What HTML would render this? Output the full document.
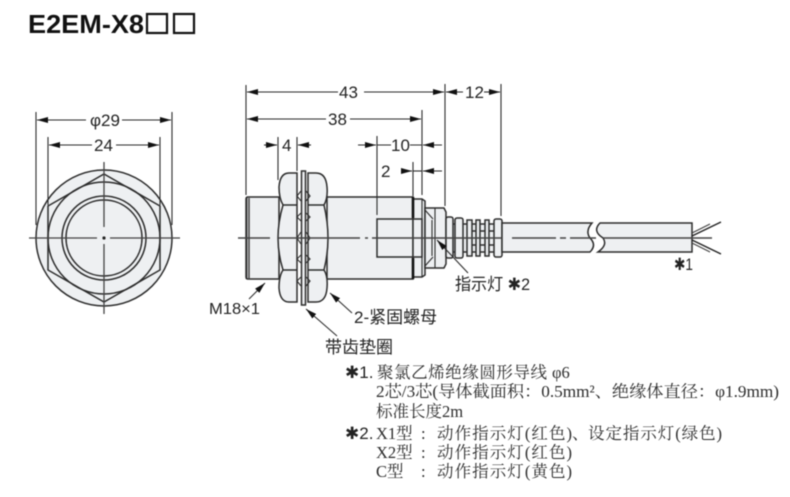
<!DOCTYPE html>
<html><head><meta charset="utf-8"><style>
html,body{margin:0;padding:0;background:#fff}
svg{display:block;filter:blur(.4px)}
text{fill:#222;font-family:"Liberation Sans","Noto Sans CJK SC",sans-serif;font-size:17px}
.s{font-family:"Liberation Serif","Noto Serif CJK SC",serif;font-size:16.5px;fill:#2c2c2c}
.o{stroke:#2c2c2c;stroke-width:1.5;fill:#eef0f2}
.n{stroke:#2c2c2c;stroke-width:1.5;fill:none}
.d{stroke:#2c2c2c;stroke-width:1.1;fill:none}
</style></head><body>
<svg width="790" height="497" viewBox="0 0 790 497" xmlns="http://www.w3.org/2000/svg">
<defs><marker id="a" viewBox="0 0 11 6" refX="11" refY="3" markerWidth="11" markerHeight="6" orient="auto-start-reverse" markerUnits="userSpaceOnUse"><path d="M0 0L11 3L0 6z" fill="#111"/></marker></defs>

<text x="28" y="33" textLength="116" lengthAdjust="spacingAndGlyphs" style="font-size:26px;font-weight:bold;fill:#111">E2EM-X8</text>
<rect x="147" y="14" width="20" height="19" fill="none" stroke="#111" stroke-width="2.2"/>
<rect x="174" y="14" width="20" height="19" fill="none" stroke="#111" stroke-width="2.2"/>

<!-- front view -->
<circle cx="104" cy="238" r="68" class="o"/>
<path d="M104 174L160 206V270L104 302L48 270V206Z" class="n"/>
<circle cx="104" cy="238" r="56" class="n"/>
<circle cx="104" cy="238" r="42" class="n"/>
<circle cx="104" cy="238" r="38" class="n"/>
<path d="M29 238H97M110 238H180M104 162V227M104 244V314" stroke="#444" stroke-width="1.3" fill="none"/>
<circle cx="104" cy="238" r="1.6" fill="#222"/>
<path d="M36 112V225M172 112V225M48 137V205M160 137V205" class="d"/>
<path d="M86 120H37" class="d" marker-end="url(#a)"/><path d="M122 120H171" class="d" marker-end="url(#a)"/>
<path d="M92 145H49" class="d" marker-end="url(#a)"/><path d="M116 145H159" class="d" marker-end="url(#a)"/>
<text x="90" y="126">φ29</text>
<text x="94" y="151">24</text>

<!-- side view body -->
<path d="M246 199Q246 197 248 197H279V279H248Q246 279 246 277Z" class="o"/>
<rect x="327" y="197" width="86" height="82" class="o"/>
<path d="M413 199H422L425 201V275L422 277H413Z" class="o"/>
<path d="M425 208H444L446 212V264L444 268H425Z" class="o"/>
<path d="M246.500 198V279" stroke="#333" stroke-width="1.8"/><path d="M249 198V279" stroke="#444" stroke-width="1.5"/>
<path d="M413 197V218M413 258V279" stroke="#111" stroke-width="2.6"/>
<path d="M422 199V277M432 220V256M435 208V268M425 210L433 219M425 266L433 257" class="d"/>
<rect x="377" y="219" width="45" height="38" class="n"/>
<!-- nuts -->
<path d="M289 173H297V302H289Q280 302 279 288Q279 276 283 270Q278 254 278 238Q278 222 283 205Q279 198 279 187Q280 173 289 173Z" class="o"/>
<path d="M316 173H308V302H316Q326 302 327 288Q328 276 324 270Q328 254 328 238Q328 222 324 205Q328 198 327 187Q326 173 316 173Z" class="o"/>
<path d="M283 205H297M283 270H297M324 205H308M324 270H308" class="n"/>
<rect x="301.500" y="171" width="4" height="134" class="o"/>
<path d="M301 191L297 196L301 201M301 213L297 217L301 221M301 232L297 238L301 244M301 255L297 259L301 263M301 277L297 281L301 286M306 191L310 196L306 201M306 213L310 217L306 221M306 232L310 238L306 244M306 255L310 259L306 263M306 277L310 281L306 286" class="d"/>
<!-- ribs -->
<rect x="446" y="224" width="56" height="28" fill="#eef0f2"/>
<rect x="446" y="217" width="7" height="41" rx="2" class="o"/>
<rect x="455" y="218" width="8" height="40" rx="2" class="o"/>
<rect x="467" y="220" width="5" height="36" class="o"/>
<rect x="476" y="220" width="4" height="36" class="o"/>
<rect x="485" y="220" width="4" height="36" class="o"/>
<rect x="494" y="219" width="8" height="38" rx="2" class="o"/>
<path d="M453 224H455M453 252H455M463 224H467M463 252H467M472 224H476M472 252H476M480 224H485M480 252H485M489 224H494M489 252H494M472 231H476M480 231H485M489 231H494M472 245H476M480 245H485M489 245H494" class="n"/>
<!-- cable -->
<path d="M502 223H592Q585 231 590 238Q597 245 590 252H502Z" class="o"/>
<path d="M598 252Q608 245 603 238Q592 231 600 223H692V252Z" class="o"/>
<path d="M692 236L721 222M692 240L721 254" stroke="#222" stroke-width="1.4" fill="none"/>
<path d="M692 233L710 224M692 243L710 252" stroke="#444" stroke-width="1.2" fill="none"/>
<path d="M238 238H270M278 238H360M365 238H368M372 238H502M512 238H556M560 238H566M570 238H596M603 238H712" stroke="#444" stroke-width="1.5" fill="none"/>

<!-- dimensions side -->
<path d="M246 85V195M445 84V206M501 84V216M422 110V195M278 137V180M297 137V171M377 136V215M413 162V196" class="d"/>
<path d="M338 92H247" class="d" marker-end="url(#a)"/><path d="M364 92H444" class="d" marker-end="url(#a)"/>
<path d="M463 92H446" class="d" marker-end="url(#a)"/><path d="M484 92H500" class="d" marker-end="url(#a)"/>
<path d="M326 119H247" class="d" marker-end="url(#a)"/><path d="M350 119H421" class="d" marker-end="url(#a)"/>
<path d="M264 145H277" class="d" marker-end="url(#a)"/><path d="M311 145H298" class="d" marker-end="url(#a)"/>
<path d="M358 145H376" class="d" marker-end="url(#a)"/><path d="M377 145H391M410 145H422" class="d"/><path d="M442 145H423" class="d" marker-end="url(#a)"/>
<path d="M402 171H412" class="d" marker-end="url(#a)"/><path d="M413 171H422" class="d"/><path d="M442 171H423" class="d" marker-end="url(#a)"/>
<text x="339" y="98">43</text>
<text x="465" y="98">12</text>
<text x="328" y="125">38</text>
<text x="282" y="151">4</text>
<text x="391" y="151">10</text>
<text x="381" y="177">2</text>

<!-- leaders -->
<path d="M249 299L265 283" class="d" marker-end="url(#a)"/>
<path d="M352 313L330 293" class="d" marker-end="url(#a)"/>
<path d="M337 336L306 309" class="d" marker-end="url(#a)"/>
<path d="M468 273L437 240" class="d" marker-end="url(#a)"/>
<text x="209" y="314" textLength="51" lengthAdjust="spacingAndGlyphs" style="font-size:16px">M18×1</text>
<text x="354" y="323">2-紧固螺母</text>
<text x="325" y="353">带齿垫圈</text>
<text x="455" y="290" textLength="75" lengthAdjust="spacingAndGlyphs">指示灯 ✱2</text>
<text x="674" y="270" textLength="19" lengthAdjust="spacingAndGlyphs">✱1</text>

<!-- notes -->
<text x="345" y="378">✱1.</text>
<text class="s" x="377" y="378" textLength="170" lengthAdjust="spacing">聚氯乙烯绝缘圆形导线</text>
<text class="s" x="552" y="378">φ6</text>
<text class="s" x="376" y="397" textLength="403" lengthAdjust="spacingAndGlyphs">2芯/3芯(导体截面积：0.5mm²、绝缘体直径：φ1.9mm)</text>
<text class="s" x="376" y="417">标准长度2m</text>
<text x="345" y="439">✱2.</text>
<text class="s" x="376" y="439">X1型</text>
<text class="s" x="421" y="439">:</text>
<text class="s" x="437" y="439" textLength="135">动作指示灯(红色)</text>
<text class="s" x="572" y="439">、</text>
<text class="s" x="588" y="439" textLength="134">设定指示灯(绿色)</text>
<text class="s" x="376" y="458">X2型</text>
<text class="s" x="421" y="458">:</text>
<text class="s" x="437" y="458" textLength="135">动作指示灯(红色)</text>
<text class="s" x="376" y="477">C型</text>
<text class="s" x="421" y="477">:</text>
<text class="s" x="437" y="477" textLength="135">动作指示灯(黄色)</text>
</svg>
</body></html>
